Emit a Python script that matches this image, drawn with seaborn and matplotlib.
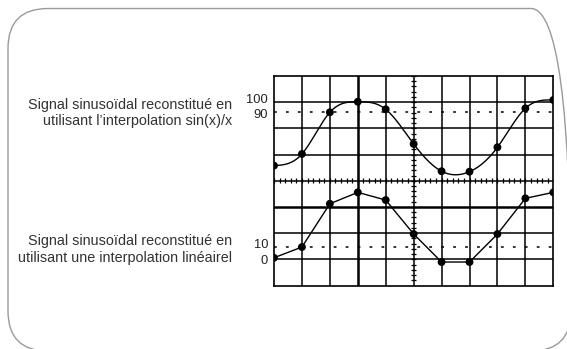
import numpy as np
import pandas as pd
import matplotlib
matplotlib.use("Agg")
import matplotlib.pyplot as plt
from matplotlib.patches import FancyBboxPatch
from matplotlib.transforms import IdentityTransform
import seaborn as sns

# Sample positions (screen divisions) and sampled values of each trace
sample_div = list(range(11))
sinc_samples = [41.5, 52.1, 90.0, 99.6, 92.7, 61.2, 36.4, 36.0, 58.2, 93.6, 101.2]
linear_samples = [0.8, 9.75, 45.8, 55.3, 48.9, 20.6, -2.75, -2.75, 20.6, 50.3, 55.3]

top_ticks = [90, 100]
bottom_ticks = [0, 10]
top_label = "Signal sinusoïdal reconstitué en\nutilisant l’interpolation sin(x)/x"
bottom_label = "Signal sinusoïdal reconstitué en\nutilisant une interpolation linéairel"


def smooth_through(xk, yk, t):
    """Natural cubic spline passing through every sample."""
    xk = np.asarray(xk, float)
    yk = np.asarray(yk, float)
    n = len(xk)
    h = np.diff(xk)
    A = np.zeros((n, n))
    b = np.zeros(n)
    A[0, 0] = A[-1, -1] = 1.0
    for i in range(1, n - 1):
        A[i, i - 1] = h[i - 1]
        A[i, i] = 2 * (h[i - 1] + h[i])
        A[i, i + 1] = h[i]
        b[i] = 3 * ((yk[i + 1] - yk[i]) / h[i] - (yk[i] - yk[i - 1]) / h[i - 1])
    c = np.linalg.solve(A, b)
    bb = (yk[1:] - yk[:-1]) / h - h * (2 * c[:-1] + c[1:]) / 3
    d = (c[1:] - c[:-1]) / (3 * h)
    idx = np.clip(np.searchsorted(xk, t, side="right") - 1, 0, n - 2)
    dx = t - xk[idx]
    return yk[idx] + bb[idx] * dx + c[idx] * dx ** 2 + d[idx] * dx ** 3


sns.set_theme(style="white")
plt.rcParams["font.family"] = ["Liberation Sans", "DejaVu Sans"]
plt.rcParams["lines.scale_dashes"] = False

W, H = 567, 349
fig = plt.figure(figsize=(W / 100, H / 100), dpi=100)

# rounded panel around the whole illustration
panel = FancyBboxPatch((8, -2), 563, 342.5,
                       boxstyle="round,pad=0,rounding_size=40",
                       transform=IdentityTransform(), fill=False,
                       edgecolor="#9a9a9a", linewidth=1.0)
fig.add_artist(panel)

# oscilloscope screen: 10 x 8 divisions
rect = [274 / W, 1 - 285.5 / H, (553.3 - 274) / W, (285.5 - 76) / H]
ax = fig.add_axes(rect)
ax.set_xlim(0, 10)
ax.set_ylim(0, 8)
ax.set_xticks([])
ax.set_yticks([])
for sp in ax.spines.values():
    sp.set_color("black")
    sp.set_linewidth(1.2)
for gx in range(1, 10):
    ax.axvline(gx, color="black", lw=1.8 if gx == 3 else 1.1, zorder=1)
for gy in range(1, 8):
    ax.axhline(gy, color="black", lw=1.8 if gy == 3 else 1.1, zorder=1)

# graduation marks on the centre axes
fine = np.arange(0, 10.01, 0.2)
ax.vlines(fine, 4 - 0.1, 4 + 0.1, color="black", lw=0.9, zorder=1)
fine_y = np.arange(0, 8.01, 0.2)
ax.hlines(fine_y, 5 - 0.09, 5 + 0.09, color="black", lw=0.9, zorder=1)


def trace_axes(ylim, ticks, dotted_level):
    """Overlay axes sharing the screen, with its own vertical scale."""
    a = ax.twinx()
    a.set_ylim(*ylim)
    a.set_xlim(0, 10)
    a.patch.set_visible(False)
    for sp in a.spines.values():
        sp.set_visible(False)
    a.set_yticks([])
    a.axhline(dotted_level, color="black", lw=1.1, linestyle=(0, (2.0, 6.6)))
    # scale values, set a little apart so the two numbers do not collide
    lo, hi = sorted(ticks)
    for val, dy in ((hi, 1.2), (lo, -1.6)):
        a.annotate(str(val), xy=(0, val), xycoords=("axes fraction", "data"),
                   xytext=(-4.3, dy), textcoords="offset points",
                   ha="right", va="center", fontsize=9.3, color="#222222")
    return a


# upper trace: smooth reconstruction through the samples
ax_top = trace_axes((-67.5, 123.0), top_ticks, top_ticks[0])
t = np.linspace(0, 10, 600)
curve = smooth_through(sample_div, sinc_samples, t)
sns.lineplot(x=t, y=curve, ax=ax_top, color="black", lw=1.0)
sns.scatterplot(x=sample_div, y=sinc_samples, ax=ax_top, color="black", s=32,
                edgecolor="none", zorder=5)

# lower trace: straight segments between samples
ax_bot = trace_axes((-22.3, 152.25), bottom_ticks, bottom_ticks[1])
sns.lineplot(x=sample_div, y=linear_samples, ax=ax_bot, color="black", lw=1.0)
sns.scatterplot(x=sample_div, y=linear_samples, ax=ax_bot, color="black", s=32,
                edgecolor="none", zorder=5)

for a in (ax_top, ax_bot):
    a.set_ylabel("")
    a.set_xlabel("")

fig.text(232 / W, 1 - 112.9 / H, top_label, ha="right", va="center",
         fontsize=10.4, color="#333333", linespacing=1.25)
fig.text(232 / W, 1 - 249.5 / H, bottom_label, ha="right", va="center",
         fontsize=10.4, color="#333333", linespacing=1.25)

fig.savefig("out.png", dpi=100)
